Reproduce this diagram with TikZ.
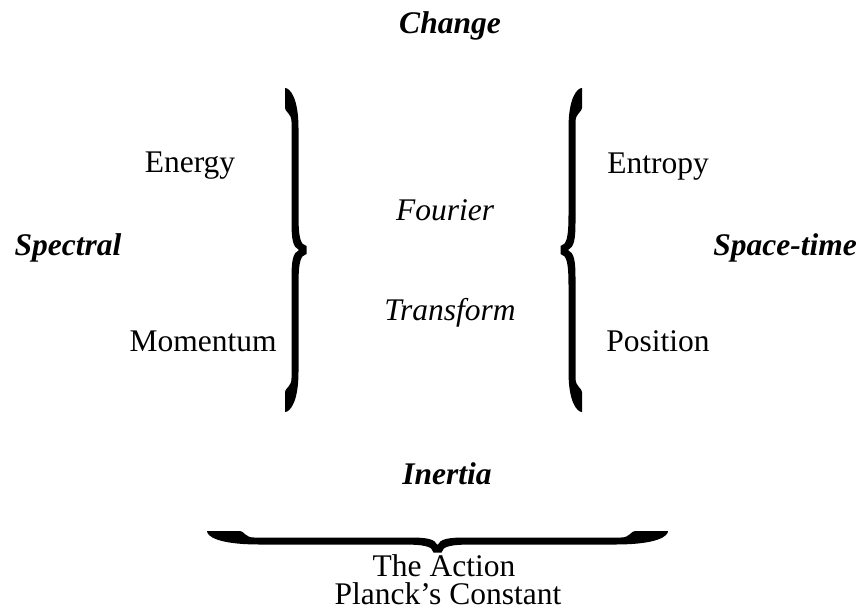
\documentclass[tikz,border=0pt]{standalone}
\usepackage{fontspec}
\setmainfont{Liberation Serif}
\tikzset{
  word/.style={anchor=base,inner sep=0pt,font=\fontsize{31.5}{36}\selectfont},
  keyword/.style={word,font=\fontsize{31.5}{36}\selectfont\bfseries\itshape},
  slant/.style={word,font=\fontsize{31.5}{36}\selectfont\itshape}
}
\newcommand{\thickbrace}[2]{%
  \fill (-#1,0) -- (-#1+#2,0)
    .. controls (-#1+#2+4,0) and (-#1+#2+5,-6.5) .. (-#1+#2+14,-6.5)
    -- (-28,-6.5) .. controls (-10,-6.5) and (-3,-8) .. (0,-14)
    .. controls (3,-8) and (10,-6.5) .. (28,-6.5)
    -- (#1-#2-14,-6.5) .. controls (#1-#2-5,-6.5) and (#1-#2-4,0) .. (#1-#2,0)
    -- (#1,0) .. controls (#1,-5) and (#1-10,-13.5) .. (#1-#2-20,-13.5)
    -- (36,-13.5) .. controls (14,-13.5) and (5,-15) .. (4,-21.5)
    -- (-4,-21.5) .. controls (-5,-15) and (-14,-13.5) .. (-36,-13.5)
    -- (-#1+#2+20,-13.5) .. controls (-#1+10,-13.5) and (-#1,-5) .. cycle;}
\begin{document}
\begin{tikzpicture}[x=1pt,y=1pt]
    \useasboundingbox (0,0) rectangle (859,-611);
    \node[keyword] (change) at (450,-33) {Change};
    \node[word] (energy) at (190,-172) {Energy};
    \node[word] (entropy) at (658,-173) {Entropy};
    \node[keyword] (spectral) at (68,-255) {Spectral};
    \node[keyword] (spacetime) at (785,-255) {Space-time};
    \node[slant] (fourier) at (445,-220) {Fourier};
    \node[slant] (transform) at (450,-320) {Transform};
    \node[word] (momentum) at (203,-351) {Momentum};
    \node[word] (position) at (658,-351) {Position};
    \node[keyword] (inertia) at (447,-484) {Inertia};

    \begin{scope}[shift={(285,-250)},rotate=90]
        \thickbrace{162}{20}
    \end{scope}
    \begin{scope}[shift={(582,-250)},rotate=-90]
        \thickbrace{162}{20}
    \end{scope}
    \begin{scope}[shift={(437.5,-531)}]
        \thickbrace{230.5}{33}
    \end{scope}

    \node[word,text depth=0pt] (action) at (444,-576) {The Action};
    \node[word,text depth=0pt,text height=22pt] (planck) at (448,-604) {Planck’s Constant};
\end{tikzpicture}
\end{document}
